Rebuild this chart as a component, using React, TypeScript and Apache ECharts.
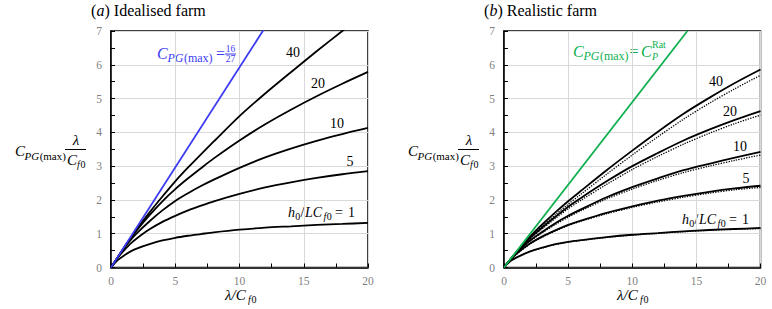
import React, { useEffect, useRef } from "react";
import * as echarts from "echarts";

// ---------------- data ----------------
// (a) Idealised farm
const xsLeft = [0, 0.5, 1, 1.5, 2, 3, 4, 5, 6, 7, 8, 10, 12, 14, 16, 18, 20];
const idealH1 = [0, 0.21, 0.35, 0.47, 0.56, 0.69, 0.8, 0.88, 0.94, 0.99, 1.04, 1.12, 1.18, 1.22, 1.26, 1.29, 1.32];
const idealH5 = [0, 0.28, 0.5, 0.7, 0.86, 1.13, 1.35, 1.53, 1.69, 1.83, 1.96, 2.18, 2.37, 2.52, 2.65, 2.76, 2.85];
const idealH10 = [0, 0.29, 0.56, 0.8, 1.01, 1.37, 1.69, 1.97, 2.2, 2.41, 2.6, 2.95, 3.26, 3.52, 3.75, 3.95, 4.13];
const idealH20 = [0, 0.29, 0.58, 0.85, 1.1, 1.55, 1.96, 2.32, 2.64, 2.94, 3.23, 3.76, 4.24, 4.67, 5.07, 5.44, 5.79];
const idealH40 = [0, 0.29, 0.58, 0.86, 1.13, 1.63, 2.1, 2.55, 2.96, 3.35, 3.73, 4.48, 5.15, 5.78, 6.4, 7.0, 7.6];
const idealLimitX = [0, 12];
const idealLimitY = [0, 7.11];

// (b) Realistic farm
const xsRight = [0, 0.5, 1, 2, 3, 4, 5, 6, 8, 10, 12, 14, 16, 18, 20];
const realH1 = [0, 0.19, 0.3, 0.47, 0.59, 0.69, 0.76, 0.81, 0.9, 0.97, 1.02, 1.07, 1.11, 1.14, 1.17];
const realH5 = [0, 0.23, 0.41, 0.7, 0.92, 1.1, 1.26, 1.39, 1.62, 1.81, 1.98, 2.12, 2.24, 2.34, 2.42];
const realH10 = [0, 0.235, 0.44, 0.79, 1.06, 1.31, 1.53, 1.72, 2.08, 2.38, 2.64, 2.88, 3.07, 3.25, 3.42];
const realH20 = [0, 0.24, 0.46, 0.86, 1.19, 1.5, 1.8, 2.06, 2.55, 3.0, 3.39, 3.76, 4.08, 4.37, 4.63];
const realH40 = [0, 0.24, 0.47, 0.9, 1.28, 1.63, 1.96, 2.27, 2.88, 3.46, 4.02, 4.55, 5.02, 5.46, 5.86];
const dotH1 = [0, 0.19, 0.3, 0.47, 0.58, 0.68, 0.75, 0.8, 0.89, 0.96, 1.01, 1.06, 1.1, 1.13, 1.15];
const dotH5 = [0, 0.23, 0.4, 0.69, 0.9, 1.08, 1.24, 1.37, 1.59, 1.78, 1.94, 2.08, 2.2, 2.3, 2.37];
const dotH10 = [0, 0.235, 0.43, 0.77, 1.03, 1.27, 1.49, 1.68, 2.03, 2.32, 2.58, 2.81, 3.0, 3.17, 3.33];
const dotH20 = [0, 0.24, 0.45, 0.84, 1.15, 1.45, 1.74, 1.99, 2.46, 2.9, 3.29, 3.65, 3.97, 4.26, 4.51];
const dotH40 = [0, 0.24, 0.46, 0.87, 1.23, 1.56, 1.87, 2.17, 2.76, 3.33, 3.87, 4.39, 4.86, 5.29, 5.69];
const realLimitX = [0, 14.3];
const realLimitY = [0, 7];

const xTicks = { min: 0, max: 20, interval: 5 };
const yTicks = { min: 0, max: 7, interval: 1 };
const curveLabels = ["40", "20", "10", "5"];

const F = "Liberation Serif";
const BLUE = "#3b3bf2";
const GREEN = "#10b050";

const zip = (xs: number[], ys: number[]) => xs.map((x, i) => [x, ys[i]]);

function txt(text: string, x: number, y: number, size: number, o: any = {}) {
  return {
    type: "text",
    x,
    y,
    silent: true,
    style: {
      text,
      fontSize: size,
      fontFamily: F,
      fontStyle: o.italic ? "italic" : "normal",
      fill: o.color || "#000",
      align: o.align || "left",
      verticalAlign: "middle",
    },
  };
}
function hline(x1: number, x2: number, y: number, color = "#000") {
  return {
    type: "line",
    silent: true,
    shape: { x1, y1: y, x2, y2: y },
    style: { stroke: color, lineWidth: 1 },
  };
}

// C_{PG(max)} at (x, y)
function cpg(x: number, y: number, color = "#000", big = 16, sub = 12, gap = 10.5) {
  const pgW = sub * 1.33;
  return [
    txt("C", x, y, big, { italic: true, color }),
    txt("PG", x + gap, y + 4.5, sub, { italic: true, color }),
    txt("(max)", x + gap + pgW + 0.5, y + 4.5, sub, { color }),
  ];
}
function yTitle(dx: number) {
  return [
    ...cpg(15 + dx, 151, "#000", 15, 11, 9.5),
    txt("λ", 76 + dx, 140, 15, { italic: true, align: "center" }),
    hline(65 + dx, 86 + dx, 149.5),
    txt("C", 67 + dx, 160, 15, { italic: true }),
    txt("f", 77 + dx, 164, 10, { italic: true }),
    txt("0", 80.5 + dx, 164, 10),
  ];
}
function xTitle(dx: number) {
  return [
    txt("λ/C", 225 + dx, 294.5, 15, { italic: true }),
    txt("f", 248 + dx, 299, 10, { italic: true }),
    txt("0", 251.5 + dx, 299, 10),
  ];
}
function hLabel(x: number, y: number) {
  return [
    txt("h", x, y, 14, { italic: true }),
    txt("0", x + 7.2, y + 4, 10),
    txt("/", x + 12.5, y, 14),
    txt("LC", x + 17, y, 14, { italic: true }),
    txt("f", x + 35.5, y + 4, 10, { italic: true }),
    txt("0", x + 38.8, y + 4, 10),
    txt("=", x + 47, y, 14),
    txt("1", x + 60, y, 14),
  ];
}

export default function App() {
  const ref = useRef<HTMLDivElement>(null);
  useEffect(() => {
    if (!ref.current) return;
    const chart = echarts.init(ref.current, undefined, { renderer: "svg" });

    const common = {
      type: "value",
      axisLine: { show: true, onZero: false, lineStyle: { color: "#000", width: 1.5 } },
      axisTick: { show: true, inside: true, length: 4, lineStyle: { color: "#000", width: 1 } },
      minorTick: { show: true, splitNumber: 2, length: 4, lineStyle: { color: "#000", width: 1 } },
      splitLine: { show: true, lineStyle: { color: "#d9d9d9", width: 1 } },
    };
    const mkX = (g: number) => ({
      gridIndex: g,
      ...common,
      ...xTicks,
      axisLabel: { color: "#7f7f7f", fontFamily: F, fontSize: 11.5, margin: 7 },
    });
    const mkY = (g: number) => ({
      gridIndex: g,
      ...common,
      ...yTicks,
      axisLabel: { color: "#7f7f7f", fontFamily: F, fontSize: 11.5, margin: 9 },
    });

    const line = (g: number, xs: number[], ys: number[], color: string, type = "solid", width = 1.8) => ({
      type: "line",
      xAxisIndex: g,
      yAxisIndex: g,
      data: zip(xs, ys),
      showSymbol: false,
      smooth: 0.3,
      clip: true,
      lineStyle: { color, width, type },
      emphasis: { disabled: true },
    });

    const leftCurves = [idealH1, idealH5, idealH10, idealH20, idealH40];
    const rightCurves = [realH1, realH5, realH10, realH20, realH40];
    const rightDots = [dotH1, dotH5, dotH10, dotH20, dotH40];

    const leftNumPos = [
      [293, 52],
      [318, 83],
      [337, 123],
      [350, 161],
    ];
    const rightNumPos = [
      [716, 81],
      [730, 111],
      [740, 146],
      [746, 178],
    ];

    const graphics: any[] = [
      // panel titles
      txt("(", 91, 10, 16),
      txt("a", 96.5, 10, 16, { italic: true }),
      txt(") Idealised farm", 104.5, 10, 16),
      txt("(", 484, 10, 16),
      txt("b", 489.5, 10, 16, { italic: true }),
      txt(") Realistic farm", 497.5, 10, 16),
      ...yTitle(0),
      ...yTitle(393),
      ...xTitle(0),
      ...xTitle(392),
      // blue label
      ...cpg(157, 53, BLUE),
      txt("=", 216, 53, 16, { color: BLUE }),
      txt("16", 230.5, 48.5, 9.5, { color: BLUE, align: "center" }),
      hline(225, 236, 54, BLUE),
      txt("27", 230.5, 58.5, 9.5, { color: BLUE, align: "center" }),
      // green label
      ...cpg(573, 51, GREEN),
      txt("=", 629.5, 51, 16, { color: GREEN }),
      txt("C", 641, 51, 16, { italic: true, color: GREEN }),
      txt("P", 652, 56, 10, { italic: true, color: GREEN }),
      txt("Rat", 652, 44.5, 10, { color: GREEN }),
      ...curveLabels.map((s, i) => txt(s, leftNumPos[i][0], leftNumPos[i][1], 14, { align: "center" })),
      ...curveLabels.map((s, i) => txt(s, rightNumPos[i][0], rightNumPos[i][1], 14, { align: "center" })),
      ...hLabel(288, 212),
      ...hLabel(682, 219),
    ];

    chart.setOption({
      animation: false,
      grid: [
        { left: 111, top: 31, width: 257, height: 236.5, show: true, borderColor: "#000", borderWidth: 1.5 },
        { left: 504, top: 31, width: 256.5, height: 236.5, show: true, borderColor: "#000", borderWidth: 1.5 },
      ],
      xAxis: [mkX(0), mkX(1)],
      yAxis: [mkY(0), mkY(1)],
      series: [
        ...leftCurves.map((c) => line(0, xsLeft, c, "#000")),
        line(0, idealLimitX, idealLimitY, BLUE, "solid", 1.8),
        ...rightDots.map((c) => line(1, xsRight, c, "#000", "dotted", 1.3)),
        ...rightCurves.map((c) => line(1, xsRight, c, "#000")),
        line(1, realLimitX, realLimitY, GREEN, "solid", 1.8),
      ],
      graphic: graphics,
    });
    return () => chart.dispose();
  }, []);
  return (
    <div
      ref={ref}
      style={{ position: "fixed", left: 0, top: 0, width: 772, height: 309, background: "#fff" }}
    />
  );
}
